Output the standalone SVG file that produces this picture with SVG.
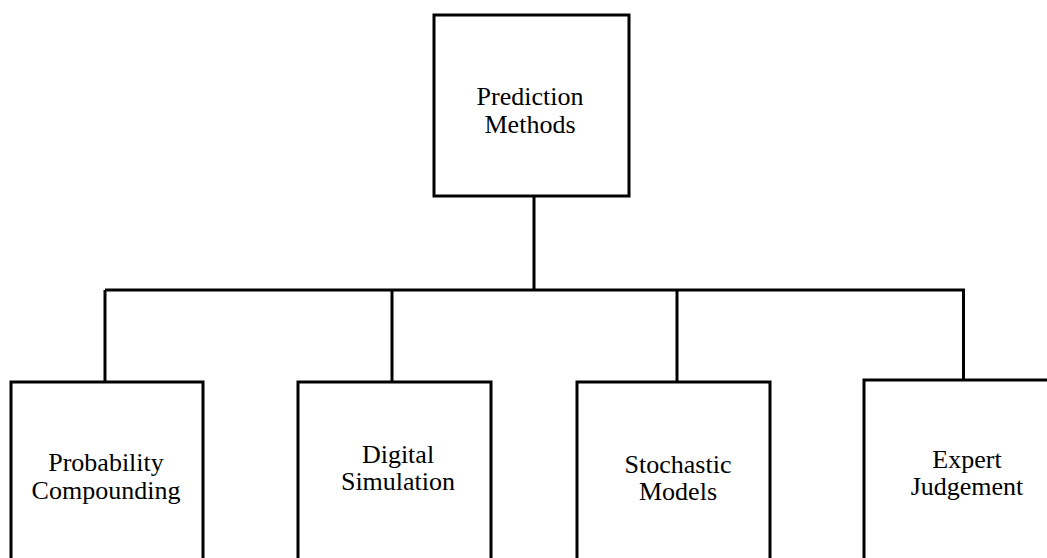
<svg xmlns="http://www.w3.org/2000/svg" width="1047" height="558" viewBox="0 0 1047 558">
<style>
.box{fill:#fff;stroke:#000;stroke-width:3}
.ln{fill:none;stroke:#000;stroke-width:3}
text{font-family:"Liberation Serif","Times New Roman",serif;font-size:26px;fill:#000;text-anchor:middle}
</style>
<rect width="1047" height="558" fill="#fff"/>
<g id="connectors">
<line class="ln" x1="534" y1="196" x2="534" y2="290"/>
<line class="ln" x1="105" y1="290" x2="965" y2="290"/>
<line class="ln" x1="105" y1="290" x2="105" y2="382"/>
<line class="ln" x1="392" y1="290" x2="392" y2="382"/>
<line class="ln" x1="677" y1="290" x2="677" y2="382"/>
<line class="ln" x1="963.5" y1="290" x2="963.5" y2="380"/>
</g>
<g id="prediction-methods">
<rect class="box" x="434" y="15" width="195" height="181"/>
<text x="530" y="105">Prediction</text>
<text x="530" y="133">Methods</text>
</g>
<g id="probability-compounding">
<rect class="box" x="11" y="382" width="192" height="200"/>
<text x="106" y="471">Probability</text>
<text x="106" y="499">Compounding</text>
</g>
<g id="digital-simulation">
<rect class="box" x="298" y="382" width="193" height="200"/>
<text x="398" y="463">Digital</text>
<text x="398" y="490">Simulation</text>
</g>
<g id="stochastic-models">
<rect class="box" x="577" y="382" width="193" height="200"/>
<text x="678" y="473">Stochastic</text>
<text x="678" y="500">Models</text>
</g>
<g id="expert-judgement">
<rect class="box" x="864" y="380" width="200" height="200"/>
<text x="967" y="468">Expert</text>
<text x="967" y="495">Judgement</text>
</g>
</svg>
